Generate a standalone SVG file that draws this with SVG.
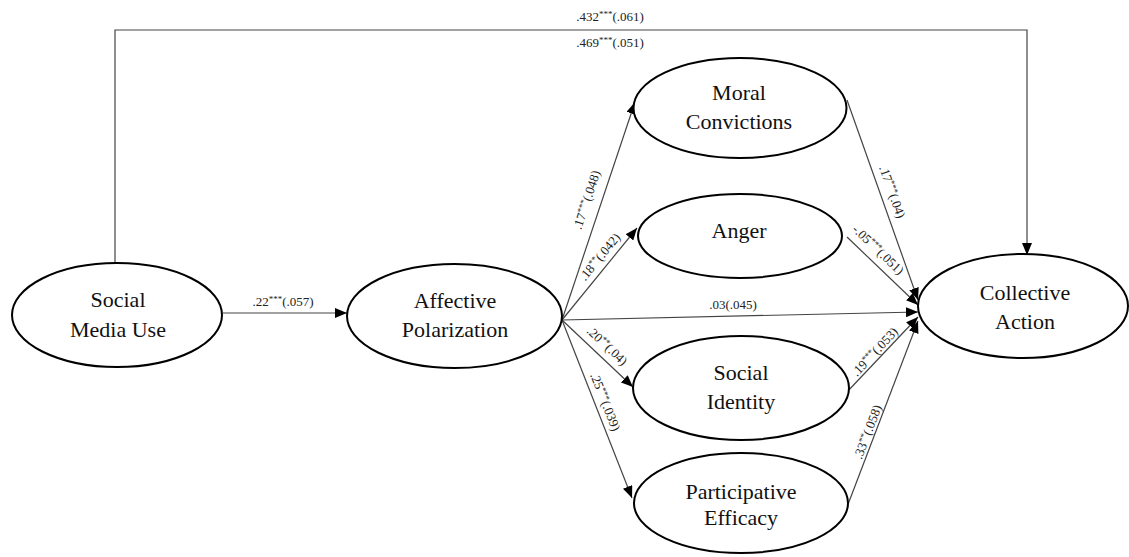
<svg xmlns="http://www.w3.org/2000/svg" width="1129" height="557" viewBox="0 0 1129 557" font-family="Liberation Serif, Times New Roman, DejaVu Serif, serif">
<style>
.node ellipse{fill:#fff;stroke:#000;stroke-width:2}
.node text{font-size:22px;fill:#111;text-anchor:middle}
.conn line,.conn polyline{stroke:#444;stroke-width:1.2;fill:none}
.lbl{font-size:13px;fill:#222;text-anchor:middle}
.sup{font-size:9px}
</style>
<defs>
<marker id="arr" viewBox="0 0 12 10" refX="12" refY="5" markerWidth="12" markerHeight="10" markerUnits="userSpaceOnUse" orient="auto">
<path d="M0,0 L12,5 L0,10 Z" fill="#000"/>
</marker>
</defs>
<g class="conn" id="connectors">
<polyline points="115,263 115,30 1027,30 1027,255" marker-end="url(#arr)"/>
<line x1="223" y1="313" x2="347" y2="313" marker-end="url(#arr)"/>
<line x1="562" y1="320" x2="635" y2="102" marker-end="url(#arr)"/>
<line x1="562" y1="320" x2="637" y2="228" marker-end="url(#arr)"/>
<line x1="562" y1="320" x2="918" y2="312" marker-end="url(#arr)"/>
<line x1="562" y1="320" x2="633" y2="387" marker-end="url(#arr)"/>
<line x1="562" y1="320" x2="632" y2="498" marker-end="url(#arr)"/>
<line x1="847" y1="100" x2="918" y2="300" marker-end="url(#arr)"/>
<line x1="847" y1="237" x2="918" y2="305" marker-end="url(#arr)"/>
<line x1="846" y1="393" x2="918" y2="317" marker-end="url(#arr)"/>
<line x1="847" y1="507" x2="918" y2="321" marker-end="url(#arr)"/>
</g>
<g id="labels" font-family="Liberation Serif, Times New Roman, DejaVu Serif, serif">
<text class="lbl" x="610" y="21">.432<tspan class="sup" dy="-4">***</tspan><tspan dy="4">(.061)</tspan></text>
<text class="lbl" x="610" y="47">.469<tspan class="sup" dy="-4">***</tspan><tspan dy="4">(.051)</tspan></text>
<text class="lbl" x="283" y="306">.22<tspan class="sup" dy="-4">***</tspan><tspan dy="4">(.057)</tspan></text>
<text class="lbl" x="733" y="309">.03(.045)</text>
<text class="lbl" transform="translate(587,200) rotate(-71.5)" y="4">.17<tspan class="sup" dy="-4">***</tspan><tspan dy="4">(.048)</tspan></text>
<text class="lbl" transform="translate(600,257) rotate(-50.8)" y="4">.18<tspan class="sup" dy="-4">**</tspan><tspan dy="4">(.042)</tspan></text>
<text class="lbl" transform="translate(607,346) rotate(43.3)" y="4">.20<tspan class="sup" dy="-4">**</tspan><tspan dy="4">(.04)</tspan></text>
<text class="lbl" transform="translate(605,402) rotate(68.5)" y="4">.25<tspan class="sup" dy="-4">***</tspan><tspan dy="4">(.039)</tspan></text>
<text class="lbl" transform="translate(892,192) rotate(70.5)" y="4">.17<tspan class="sup" dy="-4">***</tspan><tspan dy="4">(.04)</tspan></text>
<text class="lbl" transform="translate(878,250) rotate(43.8)" y="4">-.05<tspan class="sup" dy="-4">***</tspan><tspan dy="4">(.051)</tspan></text>
<text class="lbl" transform="translate(875,352) rotate(-46.9)" y="4">.19<tspan class="sup" dy="-4">***</tspan><tspan dy="4">(.053)</tspan></text>
<text class="lbl" transform="translate(868,432) rotate(-69)" y="4">.33<tspan class="sup" dy="-4">**</tspan><tspan dy="4">(.058)</tspan></text>
</g>
<g class="node" id="social-media-use" font-family="Liberation Serif, Times New Roman, DejaVu Serif, serif">
<ellipse cx="117" cy="315" rx="105" ry="52"/>
<text x="118" y="307">Social</text>
<text x="118" y="337">Media Use</text>
</g>
<g class="node" id="affective-polarization" font-family="Liberation Serif, Times New Roman, DejaVu Serif, serif">
<ellipse cx="454.5" cy="316" rx="107.5" ry="52"/>
<text x="455" y="308">Affective</text>
<text x="455" y="337">Polarization</text>
</g>
<g class="node" id="moral-convictions" font-family="Liberation Serif, Times New Roman, DejaVu Serif, serif">
<ellipse cx="740" cy="108" rx="106.5" ry="50"/>
<text x="739" y="100">Moral</text>
<text x="739" y="129">Convictions</text>
</g>
<g class="node" id="anger" font-family="Liberation Serif, Times New Roman, DejaVu Serif, serif">
<ellipse cx="740" cy="236" rx="102" ry="42"/>
<text x="739" y="238">Anger</text>
</g>
<g class="node" id="social-identity" font-family="Liberation Serif, Times New Roman, DejaVu Serif, serif">
<ellipse cx="741" cy="388" rx="108" ry="52"/>
<text x="741" y="380">Social</text>
<text x="741" y="409">Identity</text>
</g>
<g class="node" id="participative-efficacy" font-family="Liberation Serif, Times New Roman, DejaVu Serif, serif">
<ellipse cx="741" cy="503" rx="107" ry="50"/>
<text x="741" y="499">Participative</text>
<text x="741" y="525">Efficacy</text>
</g>
<g class="node" id="collective-action" font-family="Liberation Serif, Times New Roman, DejaVu Serif, serif">
<ellipse cx="1023" cy="306" rx="105" ry="52"/>
<text x="1025" y="300">Collective</text>
<text x="1025" y="329">Action</text>
</g>
</svg>
